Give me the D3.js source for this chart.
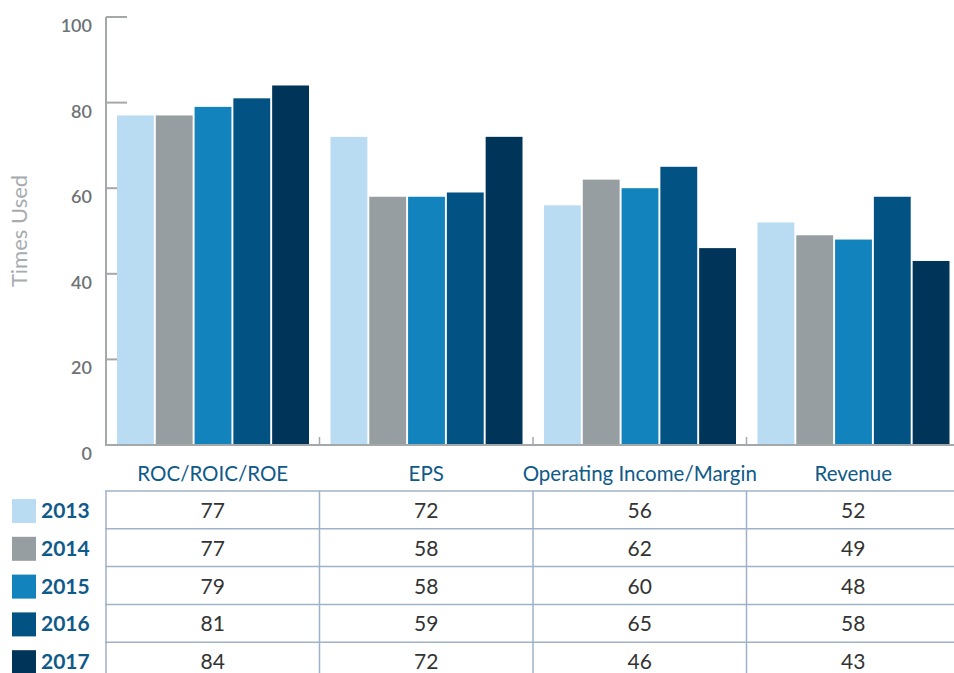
<!DOCTYPE html>
<html><head><meta charset="utf-8">
<script src="https://cdn.jsdelivr.net/npm/d3@7"></script>
<style>body{margin:0;background:#fff}svg{display:block;font-family:Lato,"Open Sans",sans-serif}</style>
</head><body><svg id="c" width="954" height="673"></svg>
<script>
const categories = ["ROC/ROIC/ROE","EPS","Operating Income/Margin","Revenue"];
const years = ["2013","2014","2015","2016","2017"];
const v2013 = [77,72,56,52];
const v2014 = [77,58,62,49];
const v2015 = [79,58,60,48];
const v2016 = [81,59,65,58];
const v2017 = [84,72,46,43];
const yTicks = [0,20,40,60,80,100];
const colors = ["#b9dcf3","#969ea1","#1283bc","#025283","#003459"];
const series = [v2013,v2014,v2015,v2016,v2017];

const svg = d3.select("#c");
const x = d3.scaleBand().domain(categories).range([106,960]).paddingInner(0).paddingOuter(0);
const xi = d3.scaleBand().domain(years).range([11,203]).paddingInner(0.05);
const y = d3.scaleLinear().domain([0,100]).range([445,17]);
const axisColor = "#a3a8ab";

// y axis line + ticks
svg.append("line").attr("x1",106).attr("x2",106).attr("y1",y(100)).attr("y2",y(0)).attr("stroke",axisColor).attr("stroke-width",2);
svg.selectAll(".yt").data(yTicks.filter(d=>d>0)).join("line")
  .attr("x1",106).attr("x2",127).attr("y1",d=>y(d)).attr("y2",d=>y(d)).attr("stroke",axisColor).attr("stroke-width",2);
svg.selectAll(".yl").data(yTicks).join("text")
  .attr("x",92).attr("y",d=>y(d)+15).attr("text-anchor","end")
  .attr("font-size",18).attr("font-weight",600).attr("fill","#6d7275").text(d=>d);

svg.append("text").attr("transform","translate(27,231) rotate(-90)").attr("text-anchor","middle")
  .attr("font-size",22).attr("fill","#a7acaf").text("Times Used");

// bars
categories.forEach((c,ci)=>{
  years.forEach((yr,si)=>{
    const val = series[si][ci];
    svg.append("rect").attr("x",x(c)+xi(yr)).attr("width",xi.bandwidth())
      .attr("y",y(val)).attr("height",y(0)-y(val)).attr("fill",colors[si]);
  });
});

// baseline + category separators
svg.append("line").attr("x1",105).attr("x2",954).attr("y1",445).attr("y2",445).attr("stroke",axisColor).attr("stroke-width",2);
svg.selectAll(".sep").data(categories.slice(1)).join("line")
  .attr("x1",d=>x(d)).attr("x2",d=>x(d)).attr("y1",437).attr("y2",445).attr("stroke",axisColor).attr("stroke-width",1.5);

// category labels
svg.selectAll(".cl").data(categories).join("text")
  .attr("x",d=>x(d)+x.bandwidth()/2).attr("y",481).attr("text-anchor","middle")
  .attr("font-size",20.5).attr("fill","#0f5a89").text(d=>d);

// table
const rowTop = 491, rowH = 37.8;
const lineColor = "#9fb2c8";
years.forEach((yr,si)=>{
  const ry = rowTop + si*rowH;
  svg.append("rect").attr("x",12).attr("y",ry+8).attr("width",24).attr("height",24).attr("fill",colors[si]);
  svg.append("text").attr("x",41).attr("y",ry+27).attr("font-size",21).attr("font-weight",700).attr("fill","#0f5a89").text(yr);
  categories.forEach((c,ci)=>{
    svg.append("text").attr("x",x(c)+x.bandwidth()/2).attr("y",ry+27).attr("text-anchor","middle")
      .attr("font-size",21).attr("fill","#333").text(series[si][ci]);
  });
});
for(let i=0;i<=5;i++){
  svg.append("line").attr("x1",105).attr("x2",954).attr("y1",rowTop+i*rowH).attr("y2",rowTop+i*rowH).attr("stroke",lineColor).attr("stroke-width",1.5);
}
categories.forEach(c=>{
  svg.append("line").attr("x1",x(c)).attr("x2",x(c)).attr("y1",rowTop).attr("y2",673).attr("stroke",lineColor).attr("stroke-width",1.5);
});
</script></body></html>
